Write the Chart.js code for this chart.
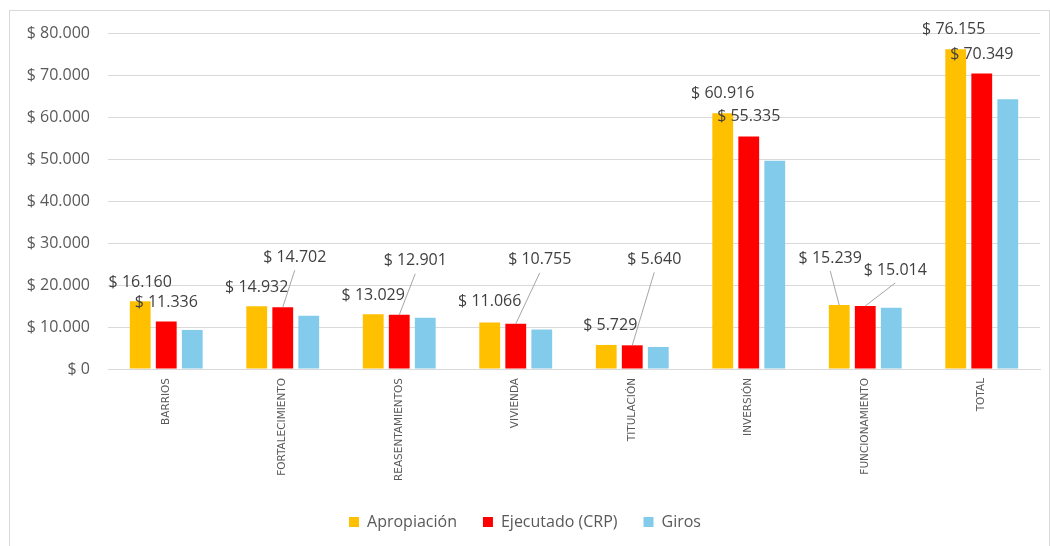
<!DOCTYPE html>
<html>
<head>
<meta charset="utf-8">
<script src="https://cdn.jsdelivr.net/npm/chart.js@4.4.1/dist/chart.umd.min.js"></script>
<style>
  html, body { margin: 0; padding: 0; background: #fff; }
  #wrap { position: relative; width: 1050px; height: 546px; }
</style>
</head>
<body>
<div id="wrap"><canvas id="myBarChart"></canvas></div>
<script>
// Data (millions of pesos)
var categories = ['BARRIOS', 'FORTALECIMIENTO', 'REASENTAMIENTOS', 'VIVIENDA', 'TITULACIÓN', 'INVERSIÓN', 'FUNCIONAMIENTO', 'TOTAL'];
var apropiacion = [16160, 14932, 13029, 11066, 5729, 60916, 15239, 76155];
var ejecutado = [11336, 14702, 12901, 10755, 5640, 55335, 15014, 70349];
var giros = [9300, 12700, 12200, 9400, 5250, 49600, 14600, 64200];
var yTicks = [0, 10000, 20000, 30000, 40000, 50000, 60000, 70000, 80000];

// Label placement (pixel offsets of the label centre from the bar top), leader = draw a line
var aproLabelPos = [
    { dx: 0, dy: -19 }, { dx: 0, dy: -19 }, { dx: 0, dy: -19 }, { dx: 0, dy: -21 },
    { dx: 4, dy: -20 }, { dx: 0, dy: -20 }, { dx: -9, dy: -47, leader: true }, { dx: -2, dy: -20 }
];
var ejecLabelPos = [
    { dx: 0, dy: -19 }, { dx: 12, dy: -50, leader: true }, { dx: 16, dy: -54, leader: true }, { dx: 24, dy: -64, leader: true },
    { dx: 22, dy: -86, leader: true }, { dx: 0, dy: -20 }, { dx: 30, dy: -36, leader: true }, { dx: 0, dy: -19 }
];

function money(v) {
    return '$ ' + String(Math.round(v)).replace(/\B(?=(\d{3})+(?!\d))/g, '.');
}

var FONT = "'Open Sans', 'Liberation Sans', sans-serif";

// draws chart frame and the value labels
var labelPlugin = {
    id: 'labelPlugin',
    beforeDraw: function(chart) {
        var c = chart.ctx;
        c.save();
        c.fillStyle = '#ffffff';
        c.fillRect(0, 0, chart.width, chart.height);
        c.strokeStyle = '#d9d9d9';
        c.lineWidth = 1;
        c.strokeRect(9.5, 10.5, 1040, 540);
        c.restore();
    },
    afterDatasetsDraw: function(chart) {
        var c = chart.ctx;
        var sets = [{ idx: 0, pos: aproLabelPos }, { idx: 1, pos: ejecLabelPos }];
        c.save();
        c.font = '16px ' + FONT;
        c.textAlign = 'center';
        c.textBaseline = 'middle';
        sets.forEach(function(s) {
            var meta = chart.getDatasetMeta(s.idx);
            var vals = chart.data.datasets[s.idx].data;
            meta.data.forEach(function(bar, i) {
                var p = s.pos[i];
                var lx = bar.x + p.dx, ly = bar.y + p.dy;
                if (p.leader) {
                    c.strokeStyle = '#a6a6a6';
                    c.lineWidth = 1;
                    c.beginPath();
                    c.moveTo(bar.x, bar.y);
                    c.lineTo(lx, ly + 13);
                    c.stroke();
                }
                c.fillStyle = '#404040';
                c.fillText(money(vals[i]), lx, ly);
            });
        });
        c.restore();
    }
};

var ctx = document.getElementById('myBarChart').getContext('2d');
var myBarChart = new Chart(ctx, {
    type: 'bar',
    data: {
        labels: categories,
        datasets: [
            { label: 'Apropiación', data: apropiacion, backgroundColor: '#FFC000' },
            { label: 'Ejecutado (CRP)', data: ejecutado, backgroundColor: '#FF0000' },
            { label: 'Giros', data: giros, backgroundColor: '#83CBEB' }
        ]
    },
    options: {
        responsive: true,
        maintainAspectRatio: false,
        animation: false,
        layout: { padding: { left: 10, right: 10, top: 33, bottom: 6 } },
        datasets: { bar: { barPercentage: 0.8, categoryPercentage: 0.67 } },
        scales: {
            x: {
                grid: { display: false, drawTicks: false },
                border: { color: '#d9d9d9' },
                ticks: {
                    minRotation: 90, maxRotation: 90, padding: 9,
                    color: '#595959',
                    font: { family: "'DejaVu Sans', sans-serif", size: 10.5 }
                },
                afterFit: function(scale) { scale.height = 119; }
            },
            y: {
                min: 0, max: 80000,
                afterBuildTicks: function(scale) {
                    scale.ticks = yTicks.map(function(v) { return { value: v }; });
                },
                grid: { color: '#d9d9d9', drawTicks: false },
                border: { display: false },
                ticks: {
                    padding: 18,
                    color: '#595959',
                    font: { family: FONT, size: 16 },
                    callback: function(v) { return money(v); }
                },
                afterFit: function(scale) { scale.width = 98; }
            }
        },
        plugins: {
            legend: {
                display: true,
                position: 'bottom',
                labels: {
                    boxWidth: 10, boxHeight: 10, padding: 26,
                    color: '#595959',
                    font: { family: FONT, size: 16 }
                }
            },
            tooltip: { enabled: false }
        }
    },
    plugins: [labelPlugin]
});
</script>
</body>
</html>
